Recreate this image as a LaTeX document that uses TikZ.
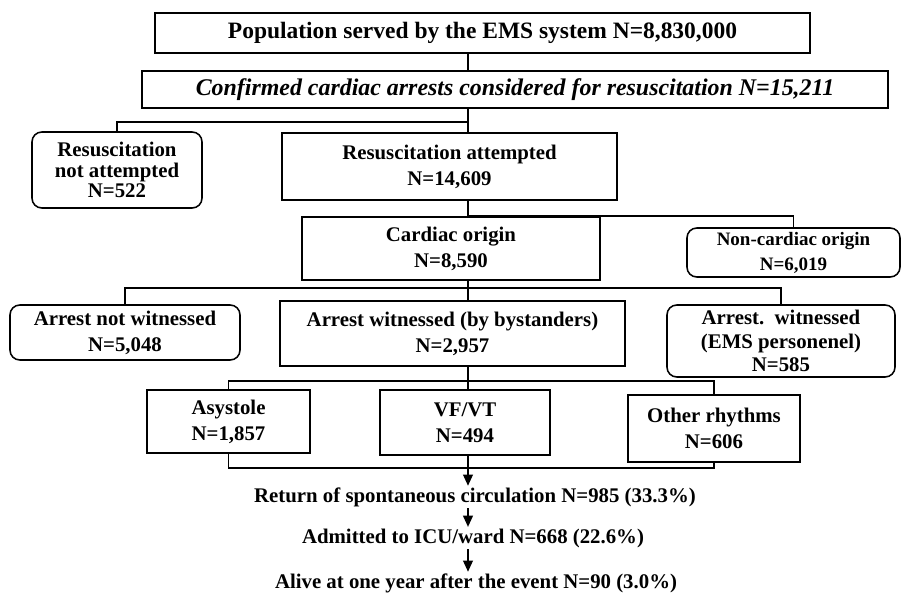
\documentclass[tikz,border=0pt]{standalone}
\usepackage{fontspec}
\setmainfont{Liberation Serif}
\usetikzlibrary{arrows.meta, positioning, calc}

\begin{document}
\begin{tikzpicture}[
    x=0.025cm, y=-0.025cm,
    % Define styles
    sz/.style 2 args={minimum width=#1*0.025cm, minimum height=#2*0.025cm},
    box/.style={rectangle, draw=black, line width=1.1pt, inner sep=2pt, align=center, font=\bfseries\fontsize{14.8}{18.5}\selectfont},
    rbox/.style={box, rounded corners=7pt},
    wide/.style={box, font=\bfseries\fontsize{16.7}{20}\selectfont},
    wideit/.style={box, font=\bfseries\itshape\fontsize{17}{20}\selectfont},
    outcome/.style={inner sep=1pt, font=\bfseries\fontsize{14.8}{18}\selectfont},
    line/.style={draw=black, line width=1.1pt},
    arrow/.style={line, -{Triangle[length=8pt, width=7pt]}},
    ]
    \useasboundingbox (0,0) rectangle (902,600);

    % Main nodes
    \node[wide, sz={655}{40}] (pop) at (482.5,33) {Population served by the EMS system N=8,830,000};
    \node[wideit, sz={746}{37}] (arrests) at (515,89.5) {Confirmed cardiac arrests considered for resuscitation N=15,211};

    \node[rbox, sz={170}{76}, font=\bfseries\fontsize{14.8}{14.4}\selectfont] (notatt) at (117,170) {Resuscitation\\not attempted\\N=522};
    \node[box, sz={335}{67}] (attempted) at (449.5,166.5) {Resuscitation attempted\\N=14,609};

    \node[box, sz={298}{63}] (cardiac) at (451,248.5) {Cardiac origin\\N=8,590};
    \node[rbox, sz={213}{49}, font=\bfseries\fontsize{13.5}{17.8}\selectfont] (noncard) at (793.5,252.5) {Non-cardiac origin\\N=6,019};

    % Witness level
    \node[rbox, sz={230}{55}] (notwit) at (125,332.5) {Arrest not witnessed\\N=5,048};
    \node[box, sz={345}{65}] (witnessed) at (452.5,333.5) {Arrest witnessed (by bystanders)\\N=2,957};
    \node[rbox, sz={228}{72}, font=\bfseries\fontsize{14.8}{16.7}\selectfont] (ems) at (781,341) {Arrest.\ \ witnessed\\(EMS personenel)\\N=585};

    % Rhythm level
    \node[box, sz={163}{63}] (asys) at (228.5,421.5) {Asystole\\N=1,857};
    \node[box, sz={170}{65}] (vfvt) at (465,422.5) {VF/VT\\N=494};
    \node[box, sz={172}{67}] (other) at (714,428.5) {Other rhythms\\N=606};

    % Outcomes
    \node[outcome] (rosc) at (475,497) {Return of spontaneous circulation N=985 (33.3\%)};
    \node[outcome] (icu) at (473,538) {Admitted to ICU/ward N=668 (22.6\%)};
    \node[outcome] (alive) at (476,583) {Alive at one year after the event N=90 (3.0\%)};

    % Spine and junctions
    \coordinate (spine) at (468,0);
    \coordinate (j1) at (468,122);
    \coordinate (j2) at (468,216);
    \coordinate (j3) at (468,288);
    \coordinate (j4) at (468,381);
    \coordinate (j5) at (468,468);

    % Connectors
    \draw[line] (pop.south -| spine) -- (arrests.north -| spine);
    \draw[line] (arrests.south -| spine) -- (attempted.north -| spine);
    \draw[line] (j1) -| (notatt.north);
    \draw[line] (attempted.south -| spine) -- (cardiac.north -| spine);
    \draw[line] (j2) -| (noncard.north);
    \draw[line] (cardiac.south -| spine) -- (witnessed.north -| spine);
    \draw[line] (notwit.north) |- (j3) -| (ems.north);
    \draw[line] (witnessed.south -| spine) -- (vfvt.north -| spine);
    \draw[line] (asys.north) |- (j4) -| (other.north);
    \draw[line] (asys.south) |- (j5) -| (other.south);
    \draw[line] (vfvt.south -| spine) -- (j5);

    % Arrows to outcomes
    \draw[arrow] (j5) -- (rosc.north -| spine);
    \draw[arrow] (rosc.south -| spine) -- (icu.north -| spine);
    \draw[arrow] (icu.south -| spine) -- (alive.north -| spine);

\end{tikzpicture}
\end{document}
